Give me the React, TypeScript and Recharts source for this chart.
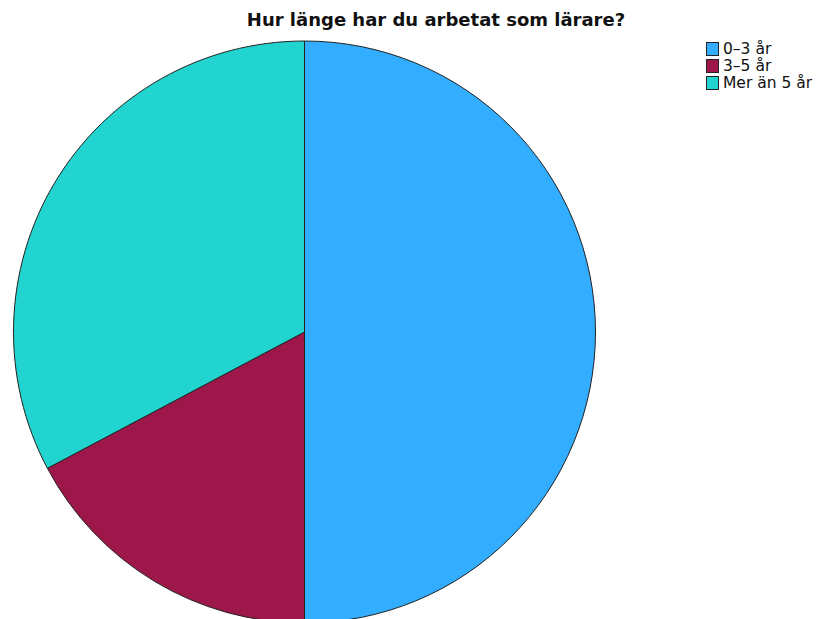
import { PieChart, Pie, Cell, Legend } from "recharts";

// Hur länge har du arbetat som lärare?
const categories = ["0–3 år", "3–5 år", "Mer än 5 år"];
const counts = [29, 10, 19];
const COLORS = ["#33adff", "#9e174b", "#22d4d0"];

const data = categories.map((name, i) => ({ name, value: counts[i] }));

function LegendBox() {
  return (
    <div style={{ fontFamily: "DejaVu Sans", fontSize: 15.5, color: "#111" }}>
      {categories.map((c, i) => (
        <div
          key={c}
          style={{ display: "flex", alignItems: "center", height: 17 }}
        >
          <span
            style={{
              display: "inline-block",
              width: 11,
              height: 12,
              background: COLORS[i],
              border: "1px solid #222",
              marginRight: 4,
            }}
          />
          <span>{c}</span>
        </div>
      ))}
    </div>
  );
}

export default function App() {
  return (
    <div
      style={{
        position: "absolute",
        left: 0,
        top: 0,
        width: 816,
        height: 619,
        background: "#fff",
        overflow: "hidden",
      }}
    >
      <div
        style={{
          position: "absolute",
          left: 0,
          width: 872,
          top: 9,
          textAlign: "center",
          fontFamily: "DejaVu Sans",
          fontWeight: "bold",
          fontSize: 18,
          color: "#111",
        }}
      >
        Hur länge har du arbetat som lärare?
      </div>
      <PieChart
        width={816}
        height={640}
        margin={{ top: 0, right: 0, bottom: 0, left: 0 }}
        style={{ position: "absolute", left: 0, top: 0 }}
      >
        <Pie
          data={data}
          dataKey="value"
          nameKey="name"
          cx={304.5}
          cy={332}
          outerRadius={291}
          startAngle={90}
          endAngle={-270}
          stroke="#222"
          strokeWidth={1}
          isAnimationActive={false}
        >
          {data.map((_, i) => (
            <Cell key={`cell-${i}`} fill={COLORS[i]} />
          ))}
        </Pie>
        <Legend
          layout="vertical"
          content={() => <LegendBox />}
          wrapperStyle={{ position: "absolute", left: 706, top: 40, width: 110 }}
        />
      </PieChart>
    </div>
  );
}
